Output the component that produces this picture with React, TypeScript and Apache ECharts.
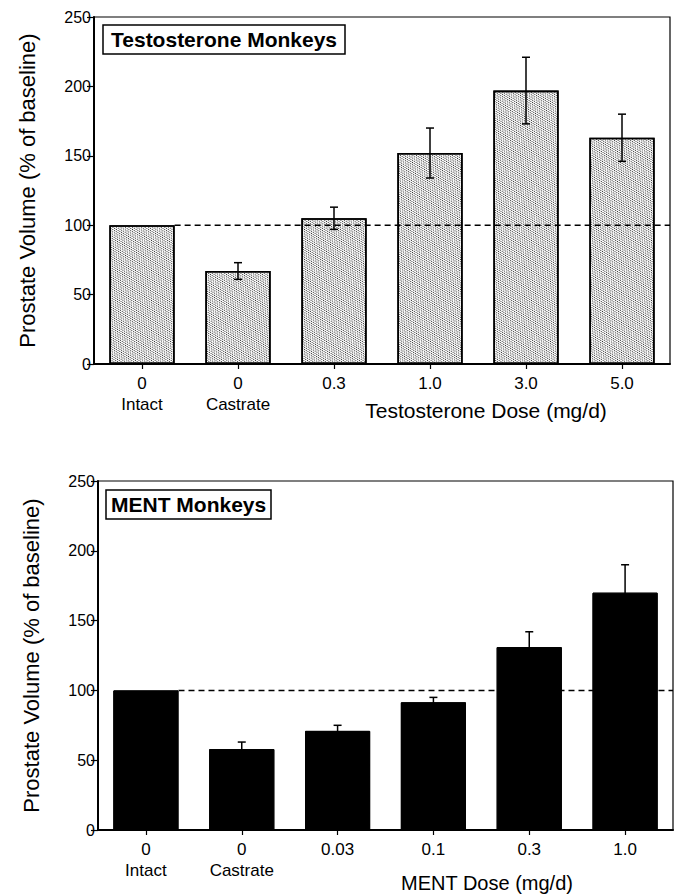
import React, { useEffect, useRef } from 'react';
import * as echarts from 'echarts';

// ---- Data ----
const categoriesT = ['0\nIntact', '0\nCastrate', '0.3', '1.0', '3.0', '5.0'];
const valuesT = [100, 67, 105, 152, 197, 163];
const errorsT = [0, 6, 8, 18, 24, 17];

const categoriesM = ['0\nIntact', '0\nCastrate', '0.03', '0.1', '0.3', '1.0'];
const valuesM = [100, 58, 71, 91.5, 131, 170];
const errorsM = [0, 5, 4, 3.5, 11, 20];

const yMin = 0;
const yMax = 250;
const yInterval = 50;
const baseline = 100;

const titleT = 'Testosterone Monkeys';
const titleM = 'MENT Monkeys';
const xNameT = 'Testosterone Dose (mg/d)';
const xNameM = 'MENT Dose (mg/d)';
const yName = 'Prostate Volume (% of baseline)';

const BAR_RATIO = 0.68;
const FONT = '"Liberation Sans", Arial, Helvetica, sans-serif';

function errorRender(params: any, api: any) {
  const x = api.value(0);
  const v = api.value(1);
  const e = api.value(2);
  if (!(e > 0)) return null;
  const top = api.coord([x, v + e]);
  const bot = api.coord([x, v - e]);
  const hw = 4;
  const style = { stroke: '#000', lineWidth: 1.5 };
  return {
    type: 'group',
    children: [
      { type: 'line', shape: { x1: top[0], y1: top[1], x2: bot[0], y2: bot[1] }, style },
      { type: 'line', shape: { x1: top[0] - hw, y1: top[1], x2: top[0] + hw, y2: top[1] }, style },
      { type: 'line', shape: { x1: bot[0] - hw, y1: bot[1], x2: bot[0] + hw, y2: bot[1] }, style },
    ],
  };
}

function errorData(values: number[], errors: number[]) {
  const out: number[][] = [];
  values.forEach((v, i) => {
    if (errors[i] > 0) out.push([i, v, errors[i]]);
  });
  return out;
}

export default function App() {
  const ref = useRef<HTMLDivElement>(null);
  useEffect(() => {
    if (!ref.current) return;
    const chart = echarts.init(ref.current, null, { renderer: 'svg' });
    const n = categoriesT.length;

    const yAxisCommon = (gridIndex: number) => ({
      type: 'value',
      gridIndex,
      min: yMin,
      max: yMax,
      interval: yInterval,
      splitLine: { show: false },
      axisLine: { show: true, onZero: false, lineStyle: { color: '#000', width: 2 } },
      axisTick: { show: true, length: 7, lineStyle: { color: '#000', width: 1.2 } },
      axisLabel: { color: '#000', fontSize: 16, fontFamily: FONT, margin: 3 },
      name: yName,
      nameLocation: 'middle',
      nameGap: 56,
      nameTextStyle: { color: '#000', fontSize: 22, fontFamily: FONT },
    });

    const xAxisCommon = (gridIndex: number, data: string[]) => ({
      type: 'category',
      gridIndex,
      data,
      axisLine: { show: true, onZero: false, lineStyle: { color: '#000', width: 2 } },
      axisTick: { show: true, alignWithLabel: true, length: 5, lineStyle: { color: '#000', width: 1.2 } },
      axisLabel: { color: '#000', fontSize: 17, fontFamily: FONT, margin: 9, lineHeight: 21, interval: 0 },
    });

    const hiddenX = (gridIndex: number) => ({
      type: 'value',
      gridIndex,
      min: -0.5,
      max: n - 0.5,
      show: false,
      axisLine: { onZero: false },
    });

    const option: any = {
      animation: false,
      aria: { enabled: true, decal: { show: true } },
      title: [
        {
          text: titleT,
          left: 103,
          top: 25,
          padding: [4, 8],
          borderColor: '#000',
          borderWidth: 1.5,
          textStyle: { fontSize: 21, fontWeight: 'bold', color: '#000', fontFamily: FONT },
        },
        {
          text: titleM,
          left: 106,
          top: 490,
          padding: [4, 5],
          borderColor: '#000',
          borderWidth: 1.5,
          textStyle: { fontSize: 21, fontWeight: 'bold', color: '#000', fontFamily: FONT },
        },
      ],
      grid: [
        { left: 94, right: 5, top: 17, height: 347, show: true, borderColor: '#000', borderWidth: 1.2, backgroundColor: 'transparent' },
        { left: 98, right: 2, top: 481, height: 349, show: true, borderColor: '#000', borderWidth: 1.2, backgroundColor: 'transparent' },
      ],
      xAxis: [xAxisCommon(0, categoriesT), xAxisCommon(1, categoriesM), hiddenX(0), hiddenX(1)],
      yAxis: [yAxisCommon(0), yAxisCommon(1)],
      graphic: [
        { type: 'text', x: 486, y: 410, style: { text: xNameT, fontSize: 21, fontFamily: FONT, fill: '#000', textAlign: 'center', textVerticalAlign: 'middle' } },
        { type: 'text', x: 487, y: 883, style: { text: xNameM, fontSize: 20, fontFamily: FONT, fill: '#000', textAlign: 'center', textVerticalAlign: 'middle' } },
      ],
      series: [
        {
          type: 'bar',
          xAxisIndex: 0,
          yAxisIndex: 0,
          data: valuesT,
          barWidth: BAR_RATIO * 100 + '%',
          itemStyle: {
            color: '#ffffff',
            borderColor: '#000',
            borderWidth: 1.6,
            decal: {
              symbol: 'rect',
              symbolSize: 1,
              color: '#2a2a2a',
              dashArrayX: [[1, 1], [0, 1, 1, 0]],
              dashArrayY: [1, 1],
            },
          },
          z: 2,
        },
        {
          type: 'bar',
          xAxisIndex: 1,
          yAxisIndex: 1,
          data: valuesM,
          barWidth: BAR_RATIO * 100 + '%',
          itemStyle: { color: '#000', borderColor: '#000', borderWidth: 1, decal: 'none' },
          z: 2,
        },
        {
          type: 'custom',
          xAxisIndex: 0,
          yAxisIndex: 0,
          renderItem: errorRender,
          data: errorData(valuesT, errorsT),
          itemStyle: { decal: 'none' },
          z: 4,
        },
        {
          type: 'custom',
          xAxisIndex: 1,
          yAxisIndex: 1,
          renderItem: errorRender,
          data: errorData(valuesM, errorsM),
          itemStyle: { decal: 'none' },
          z: 4,
        },
        {
          type: 'line',
          xAxisIndex: 2,
          yAxisIndex: 0,
          data: [[BAR_RATIO / 2, baseline], [n - 0.5, baseline]],
          symbol: 'none',
          lineStyle: { color: '#000', width: 1.5, type: [6, 4] },
          z: 5,
        },
        {
          type: 'line',
          xAxisIndex: 3,
          yAxisIndex: 1,
          data: [[BAR_RATIO / 2, baseline], [n - 0.5, baseline]],
          symbol: 'none',
          lineStyle: { color: '#000', width: 1.5, type: [6, 4] },
          z: 1,
        },
      ],
    };
    chart.setOption(option);
    return () => chart.dispose();
  }, []);
  return (
    <div
      ref={ref}
      style={{ position: 'fixed', left: 0, top: 0, width: 675, height: 895, background: '#fff' }}
    />
  );
}
